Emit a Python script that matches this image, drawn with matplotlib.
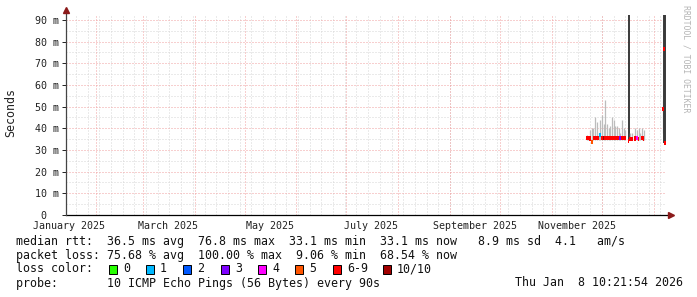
import pandas as pd
import matplotlib
matplotlib.use("Agg")
import matplotlib.pyplot as plt
from matplotlib.patches import Rectangle

W, H = 697, 297
MONO = "DejaVu Sans Mono"

# ---- data (ms), one sample a day from 22 Nov to 26 Dec, then the January readings
dates = list(pd.date_range("2025-11-22", "2025-12-26", freq="D")) + list(
    pd.to_datetime(["2026-01-06 12:00", "2026-01-07 08:00", "2026-01-07 20:00"])
)
median = [35.5, 35.5, 35.3, 33.5, 35.6, 35.5, 35.4, 35.5, 37.0, 35.5,
          35.5, 35.6, 35.5, 35.4, 35.5, 35.6, 35.5, 35.5, 35.4, 35.5,
          35.6, 35.5, 35.5, 35.4, None, 34.0, 35.0, 35.2, None, 35.3,
          35.5, 35.2, None, 35.4, 35.3,
          49.0, 76.8, 33.1]
smoke_hi = [37, 36, 39, 40, 40, 45, 43, 38, 44, 46,
            42, 53, 42, 40, 41, 45, 44, 41, 41, 40,
            38, 44, 40, 39, None, 100, 38, 38, None, 40,
            39, 40, 38, 40, 39,
            53, 100, 100]
smoke_lo = [34.5, 34.5, 34.5, 34.0, 34.5, 34.5, 34.5, 34.5, 34.5, 34.5,
            34.5, 34.5, 34.5, 34.5, 34.5, 34.5, 34.5, 34.5, 34.5, 34.5,
            34.5, 34.5, 34.5, 34.5, None, 34.0, 34.5, 34.5, None, 34.5,
            34.5, 34.5, 34.5, 34.5, 34.5,
            38.0, 33.1, 33.1]
# index into loss_colors (6 = "6-9", 7 = "10/10")
loss = [6, 6, 6, 5, 6, 6, 6, 6, 1, 6,
        7, 6, 6, 6, 6, 6, 6, 6, 6, 6,
        3, 6, 6, 6, 6, 6, 6, 6, 6, 6,
        4, 6, 6, 6, 6,
        6, 6, 6]

loss_colors = ["#26ff00", "#00b8ff", "#0059ff", "#7e00ff", "#ff00ff",
               "#ff5500", "#ff0000", "#a10000"]
loss_labels = ["0", "1", "2", "3", "4", "5", "6-9", "10/10"]

x_labels = ["January 2025", "March 2025", "May 2025", "July 2025",
            "September 2025", "November 2025"]
x_label_dates = pd.to_datetime(["2025-01-16", "2025-03-16", "2025-05-16",
                                "2025-07-16", "2025-09-16", "2025-11-16"])

t_start = pd.Timestamp("2025-01-14 00:00")
t_end = pd.Timestamp("2026-01-08 10:21:54")

fig = plt.figure(figsize=(W / 100, H / 100), dpi=100)
ax = fig.add_axes([66 / W, 82 / H, 600 / W, 200 / H])
ax.set_xlim(t_start, t_end)
ax.set_ylim(0, 92.3)

# grid
minor = dict(color="#d6d6d6", lw=0.72, ls=(0, (1, 2)), zorder=0)
major = dict(color="#f0a0a0", lw=0.72, ls=(0, (1, 2)), zorder=0.5)
for d in pd.date_range(t_start, t_end, freq="W-MON"):
    ax.axvline(d, **minor)
for d in pd.date_range("2025-02-01", t_end, freq="MS"):
    ax.axvline(d, **major)
for v in range(5, 92, 10):
    ax.axhline(v, **minor)
for v in range(10, 92, 10):
    ax.axhline(v, **major)

# smoke and median
for d, lo, hi, m, l in zip(dates, smoke_lo, smoke_hi, median, loss):
    if hi is not None:
        if hi - lo > 30:
            ax.vlines(d, lo, hi, color="#3a3a3a", lw=1.4, zorder=2)
        else:
            ax.vlines(d, lo, hi, color="#bcbcbc", lw=0.9, zorder=2)
    if m is not None:
        ax.bar(d, 1.9, bottom=m - 0.95, width=1.0, color=loss_colors[l], lw=0, zorder=3)

# axes
for s in ax.spines.values():
    s.set_visible(False)
ax.plot([0, 1.006], [0, 0], transform=ax.transAxes, color="black", lw=0.9, clip_on=False, zorder=5)
ax.plot([0, 0], [0, 1.015], transform=ax.transAxes, color="#444444", lw=0.9, clip_on=False, zorder=5)
ax.plot([1.008], [0], marker=">", ms=4.5, color="#8b1a1a", transform=ax.transAxes, clip_on=False, zorder=6)
ax.plot([0], [1.025], marker="^", ms=4.5, color="#8b1a1a", transform=ax.transAxes, clip_on=False, zorder=6)

ax.set_yticks(range(0, 91, 10))
ax.set_yticklabels(["0  "] + [f"{v} m" for v in range(10, 91, 10)])
ax.set_xticks(x_label_dates)
ax.set_xticklabels(x_labels)
ax.tick_params(axis="y", length=3, width=0.7, pad=2, labelsize=7.2, colors="#222222")
ax.tick_params(axis="x", length=0, pad=4, labelsize=7.2, colors="#222222")
for lab in ax.get_xticklabels() + ax.get_yticklabels():
    lab.set_family(MONO)

# surrounding text
fig.text(11 / W, 1 - 113 / H, "Seconds", rotation=90, ha="center", va="center",
         family=MONO, fontsize=8.4, color="#222222")
fig.text(686 / W, 1 - 59 / H, "RRDTOOL / TOBI OETIKER", rotation=270, ha="center",
         va="center", family=MONO, fontsize=5.9, color="#b4b4b4")

lines = [
    "median rtt:  36.5 ms avg  76.8 ms max  33.1 ms min  33.1 ms now   8.9 ms sd  4.1   am/s",
    "packet loss: 75.68 % avg  100.00 % max  9.06 % min  68.54 % now",
    "loss color:",
    "probe:       10 ICMP Echo Pings (56 Bytes) every 90s",
]
for i, s in enumerate(lines):
    fig.text(16 / W, 1 - (241 + 14 * i) / H, s, ha="left", va="center",
             family=MONO, fontsize=8.4, color="#111111")
fig.text(683 / W, 1 - 283 / H, "Thu Jan  8 10:21:54 2026", ha="right", va="center",
         family=MONO, fontsize=8.4, color="#111111")

box_x = [109, 146, 183, 221, 258, 295, 333, 383]
for bx, c, lab in zip(box_x, loss_colors, loss_labels):
    fig.add_artist(Rectangle((bx / W, 1 - 273.5 / H), 8 / W, 9 / H, transform=fig.transFigure,
                             facecolor=c, edgecolor="black", lw=0.7))
    fig.text((bx + 14) / W, 1 - 269 / H, lab, ha="left", va="center",
             family=MONO, fontsize=8.4, color="#111111")

fig.savefig("out.png", dpi=100)
